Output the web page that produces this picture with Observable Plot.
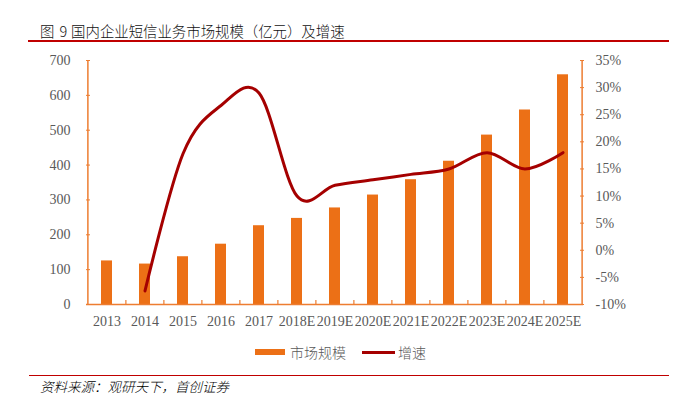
<!DOCTYPE html>
<html>
<head>
<meta charset="utf-8">
<script src="https://cdn.jsdelivr.net/npm/d3@7"></script>
<script src="https://cdn.jsdelivr.net/npm/@observablehq/plot@0.6"></script>
<style>
  html, body { margin: 0; padding: 0; background: #fff; }
  #page { position: relative; width: 690px; height: 403px; overflow: hidden; background: #fff; }
  .abs { position: absolute; white-space: nowrap; }
  .cjk { font-family: "Noto Sans CJK SC", "Noto Sans", sans-serif; }
</style>
</head>
<body>
<div id="page">
  <div class="abs cjk" style="left:40px; top:22px; font-size:14.4px; line-height:18px; color:#111; font-weight:300;"><span>图</span><span style="margin-left:5px">9</span><span style="margin-left:4px">国内企业短信业务市场规模（亿元）及增速</span></div>
  <div class="abs" style="left:28px; top:40px; width:641px; height:1.5px; background:#c00000;"></div>
  <div id="chart" class="abs" style="left:0; top:42px;"></div>
  <div class="abs" style="left:255px; top:349px; width:30px; height:6px; background:#ec7016;"></div>
  <div class="abs cjk" style="left:290px; top:343px; font-size:14px; line-height:18px; color:#595959; font-weight:300;">市场规模</div>
  <div class="abs" style="left:362px; top:350.5px; width:33px; height:3px; background:#a50000;"></div>
  <div class="abs cjk" style="left:398px; top:343px; font-size:14px; line-height:18px; color:#595959; font-weight:300;">增速</div>
  <div class="abs" style="left:29px; top:374.5px; width:640px; height:1.5px; background:#c00000;"></div>
  <div class="abs cjk" style="left:40px; top:377px; font-size:13.5px; line-height:18px; font-style:italic; font-weight:300; color:#000;">资料来源：观研天下，首创证券</div>
</div>
<script>
const years = ["2013","2014","2015","2016","2017","2018E","2019E","2020E","2021E","2022E","2023E","2024E","2025E"];
const marketSize = [125,116,137,173,226,247,277,314,358,411,486,558,659];
const growthPct = [null,-7.5,17.8,26.7,29,10,12,13,14,15,18,15,18];
const leftTicks = [0,100,200,300,400,500,600,700];
const rightTicks = [-10,-5,0,5,10,15,20,25,30,35];

const leftMax = 700, pctMin = -10, pctMax = 35;
const toLeft = p => (p - pctMin) / (pctMax - pctMin) * leftMax;
const fromLeft = v => v / leftMax * (pctMax - pctMin) + pctMin;

const bars = years.map((y, i) => ({year: y, size: marketSize[i]}));
const lineData = years.map((y, i) => ({year: y, g: growthPct[i]})).filter(d => d.g != null);

const orange = "#ec7016";
const axisColor = "#ed7d31";
const W = 690, H = 300, mL = 86, mR = 107, mT = 18, mB = 38;
const step = (W - mL - mR) / years.length;
const tickUnits = 4 / (H - mT - mB) * leftMax;

const chart = Plot.plot({
  width: W, height: H,
  marginTop: mT, marginBottom: mB, marginLeft: mL, marginRight: mR,
  style: {fontFamily: "'Liberation Serif', 'DejaVu Serif', serif", fontSize: "14px", color: "#595959", background: "#fff", overflow: "visible"},
  x: {type: "band", domain: years, paddingInner: 0.7, paddingOuter: 0.35, align: 0.5, label: null},
  y: {domain: [0, leftMax], label: null},
  marks: [
    Plot.barY(bars, {x: "year", y: "size", fill: orange}),
    Plot.ruleY([0], {stroke: axisColor, strokeWidth: 1.5}),
    Plot.ruleX([years[0]], {x: d => d, dx: -step / 2, stroke: axisColor, strokeWidth: 1.5}),
    Plot.ruleX([years[years.length - 1]], {x: d => d, dx: step / 2, stroke: axisColor, strokeWidth: 1.5}),
    Plot.ruleX(years.slice(1), {x: d => d, dx: -step / 2, y1: 0, y2: tickUnits, stroke: axisColor, strokeWidth: 1.2}),
    Plot.line(lineData, {x: "year", y: d => toLeft(d.g), stroke: "#a50000", strokeWidth: 3, curve: "cardinal"}),
    Plot.axisY(leftTicks, {anchor: "left", tickSize: -4, tickPadding: 20, stroke: axisColor, label: null}),
    Plot.axisY(rightTicks.map(toLeft), {anchor: "right", tickSize: -4, tickPadding: 16, stroke: axisColor, label: null,
      tickFormat: v => `${Math.round(fromLeft(v))}%`}),
    Plot.axisX({tickSize: 0, tickPadding: 12, label: null})
  ]
});
document.getElementById("chart").appendChild(chart);
</script>
</body>
</html>
